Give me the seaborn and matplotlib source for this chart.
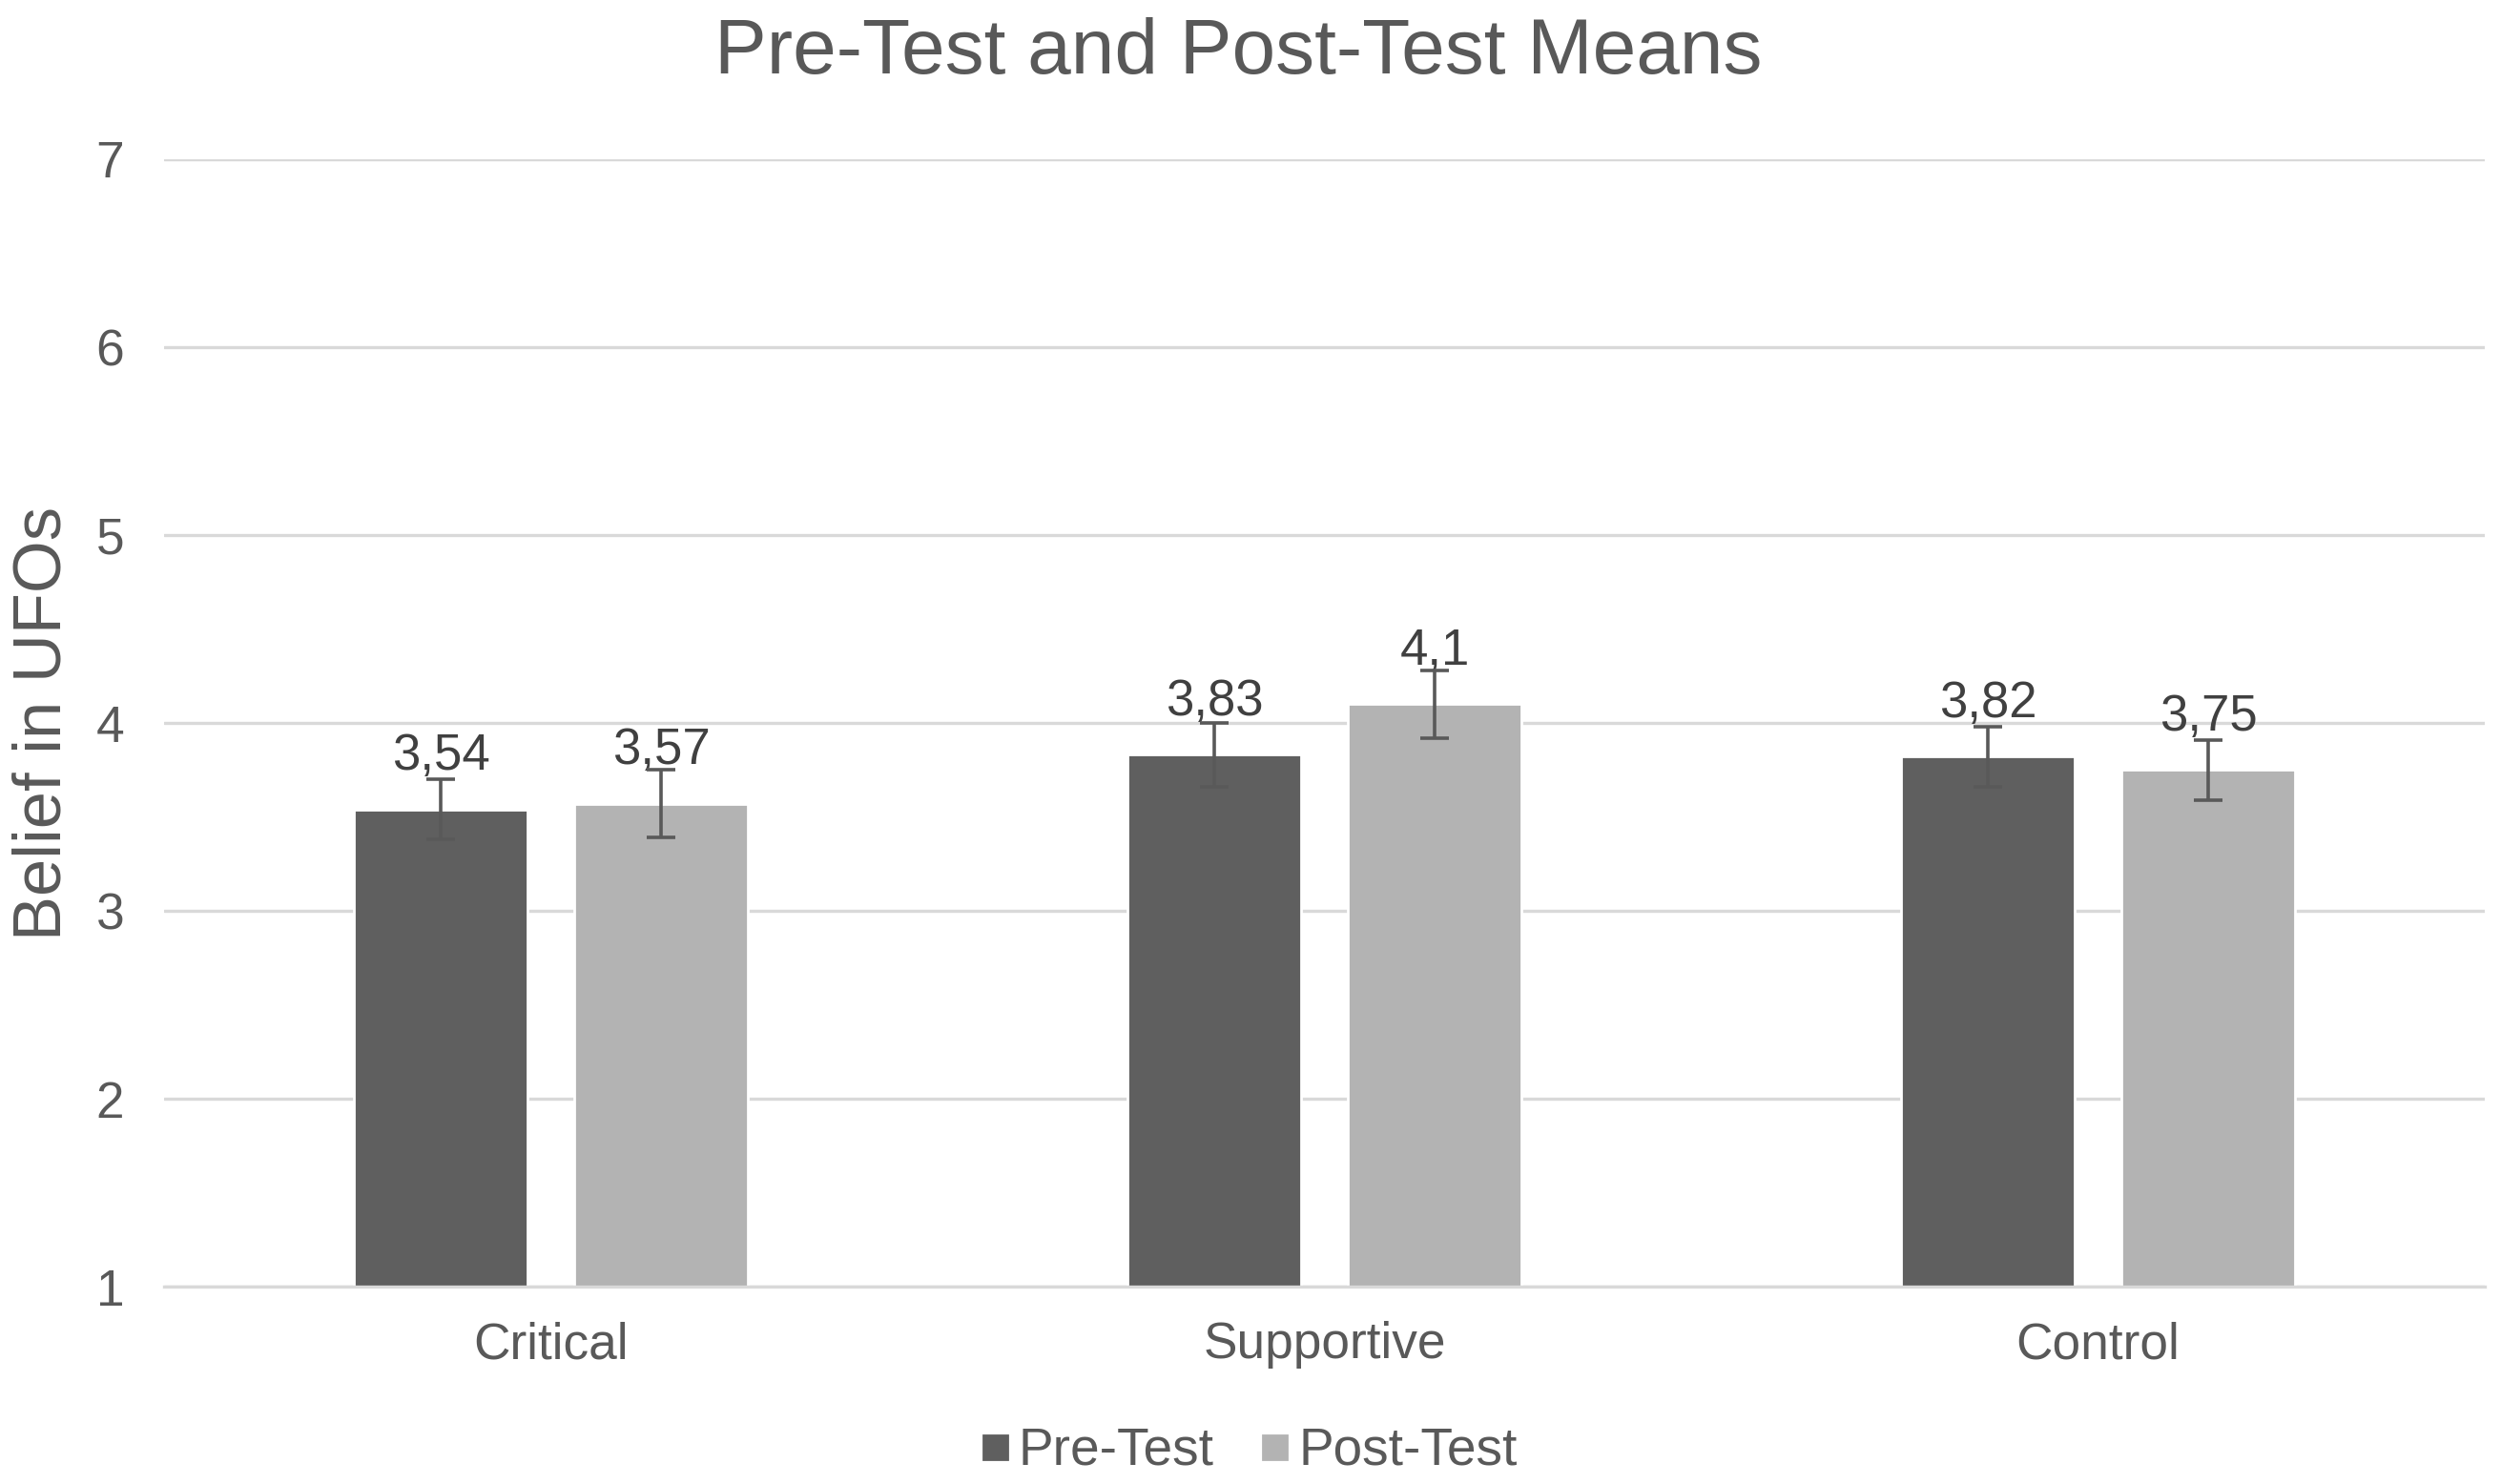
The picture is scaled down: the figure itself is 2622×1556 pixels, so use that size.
import numpy as np
import pandas as pd
import seaborn as sns
import matplotlib.pyplot as plt

groups = ["Critical", "Supportive", "Control"]
pre_means = [3.54, 3.83, 3.82]
post_means = [3.57, 4.10, 3.75]
pre_err = [0.16, 0.17, 0.16]
post_err = [0.18, 0.18, 0.16]
series = ["Pre-Test", "Post-Test"]
yticks = [1, 2, 3, 4, 5, 6, 7]

df = pd.DataFrame({
    "group": groups * 2,
    "test": [series[0]] * 3 + [series[1]] * 3,
    "mean": pre_means + post_means,
})
errs = {series[0]: pre_err, series[1]: post_err}
means = {series[0]: pre_means, series[1]: post_means}

sns.set_theme(style="white")
plt.rcParams['font.family'] = ['Liberation Sans', 'DejaVu Sans']

fig, ax = plt.subplots(figsize=(13.11, 7.78), dpi=200)
fig.subplots_adjust(left=0.0656, right=0.9935, top=0.8927, bottom=0.133)

sns.barplot(data=df, x="group", y="mean", hue="test", order=groups,
            hue_order=series, palette=["#5f5f5f", "#b3b3b3"],
            width=0.57, gap=0.215, errorbar=None, ax=ax, saturation=1)

# error bars and value labels per series
for cont, name in zip(ax.containers, series):
    xs = [p.get_x() + p.get_width() / 2 for p in cont]
    hs = [p.get_height() + p.get_y() for p in cont]
    ax.errorbar(xs, hs, yerr=errs[name], fmt="none", ecolor="#595959",
                elinewidth=1.3, capsize=5.5, capthick=1.3, zorder=5)
    ax.bar_label(cont, labels=[f"{v:g}".replace(".", ",") for v in means[name]],
                 padding=11, fontsize=19, color="#404040")

ax.set_ylim(1, 7)
ax.set_yticks(yticks)
ax.set_xlim(-0.5, 2.5)
ax.grid(axis="y", color="#d9d9d9", linewidth=1.2)
ax.set_axisbelow(True)
for s in ["top", "right", "left"]:
    ax.spines[s].set_visible(False)
ax.spines["bottom"].set_color("#d9d9d9")
ax.spines["bottom"].set_linewidth(1.2)
ax.tick_params(axis="both", length=0, labelsize=19.2, labelcolor="#595959")
ax.tick_params(axis="y", pad=15)
ax.tick_params(axis="x", pad=13)

ax.set_xlabel("")
ax.set_ylabel("Belief in UFOs", fontsize=25.4, color="#595959", va="center")
ax.yaxis.set_label_coords(-0.052, 0.5)

fig.text(0.495, 0.964, "Pre-Test and Post-Test Means", ha="center",
         va="center", fontsize=29.5, color="#595959")

ax.legend_.remove()
handles = [plt.Line2D([], [], marker="s", linestyle="none", markersize=9,
                      color=c) for c in ["#5f5f5f", "#b3b3b3"]]
fig.legend(handles, series, loc="center", bbox_to_anchor=(0.498, 0.022),
           ncol=2, frameon=False, fontsize=19.8, labelcolor="#595959",
           handletextpad=0.05, columnspacing=0.76, handlelength=0.8)

fig.savefig("out.png", dpi=200)
